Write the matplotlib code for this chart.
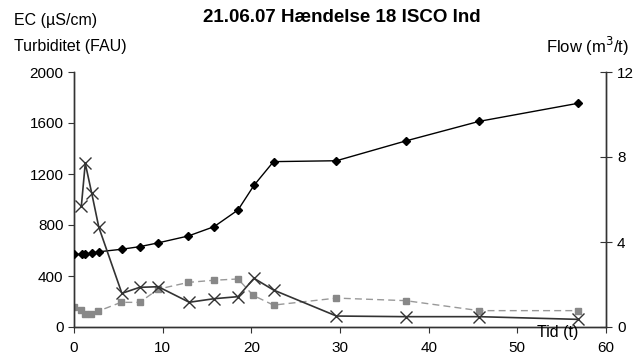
import matplotlib
matplotlib.use("Agg")
import matplotlib.pyplot as plt

plt.rcParams['font.family'] = ['Liberation Sans', 'DejaVu Sans']

# Time (hours)
t_ec = [0, 0.87, 1.27, 2.0, 2.8, 5.4, 7.4, 9.5, 12.9, 15.8, 18.5, 20.3, 22.5, 29.6, 37.4, 45.7, 56.8]
ec = [570, 570, 570, 580, 590, 610, 630, 660, 714, 787, 918, 1111, 1297, 1304, 1459, 1613, 1754]

t_turb = [0.83, 1.27, 2.0, 2.8, 5.4, 7.4, 9.5, 13.0, 15.8, 18.5, 20.3, 22.5, 29.6, 37.4, 45.7, 56.8]
turb = [949, 1284, 1049, 782, 264, 311, 316, 194, 222, 238, 382, 290, 86, 81, 81, 60]

t_flow = [0, 0.75, 1.27, 1.95, 2.7, 5.3, 7.4, 9.5, 12.9, 15.8, 18.5, 20.2, 22.5, 29.6, 37.4, 45.7, 56.8]
flow = [0.92, 0.80, 0.61, 0.61, 0.74, 1.16, 1.16, 1.78, 2.10, 2.20, 2.26, 1.49, 1.03, 1.36, 1.24, 0.77, 0.77]

left_ticks = [0, 400, 800, 1200, 1600, 2000]
right_ticks = [0, 4, 8, 12]
x_ticks = [0, 10, 20, 30, 40, 50, 60]

fig = plt.figure(figsize=(6.44, 3.61), dpi=100)
ax = fig.add_axes([74/644, 1-327/361, (606-74)/644, (327-72)/361])
ax2 = ax.twinx()

ax2.plot(t_flow, flow, color='#999999', linestyle=(0, (5, 3)), linewidth=1,
         marker='s', markersize=4.5, markerfacecolor='#888888', markeredgecolor='#888888', zorder=2)
ax.plot(t_ec, ec, color='black', linewidth=1, marker='D', markersize=4.5, zorder=3)
ax.plot(t_turb, turb, color='#333333', linewidth=1.2, marker='x', markersize=9,
        markeredgewidth=1, zorder=3)

ax.set_xlim(0, 60)
ax.set_ylim(0, 2000)
ax2.set_ylim(0, 12)
ax.set_xticks(x_ticks)
ax.set_yticks(left_ticks)
ax2.set_yticks(right_ticks)

for a in (ax, ax2):
    a.spines['top'].set_visible(False)
    for s in a.spines.values():
        s.set_color('#333333')
        s.set_linewidth(1)
ax.set_zorder(ax2.get_zorder() + 1)
ax.patch.set_visible(False)

ax.tick_params(axis='both', labelsize=11, direction='out', length=4, color='#333333')
ax.tick_params(axis='x', pad=6)
ax2.tick_params(axis='y', labelsize=11, direction='inout', length=8, color='#333333', pad=4)

fig.text(14/644, 1-21/361, 'EC (µS/cm)', fontsize=11.5, va='center', ha='left')
fig.text(14/644, 1-46/361, 'Turbiditet (FAU)', fontsize=11.5, va='center', ha='left')
fig.text(629/644, 1-46/361, 'Flow (m$^3$/t)', fontsize=12, va='center', ha='right')
fig.text(342/644, 1-18/361, '21.06.07 Hændelse 18 ISCO Ind', fontsize=13.5, fontweight='bold',
         va='center', ha='center')
fig.text(558/644, 1-332/361, 'Tid (t)', fontsize=11.5, va='center', ha='center')

fig.savefig('out.png', dpi=100)
